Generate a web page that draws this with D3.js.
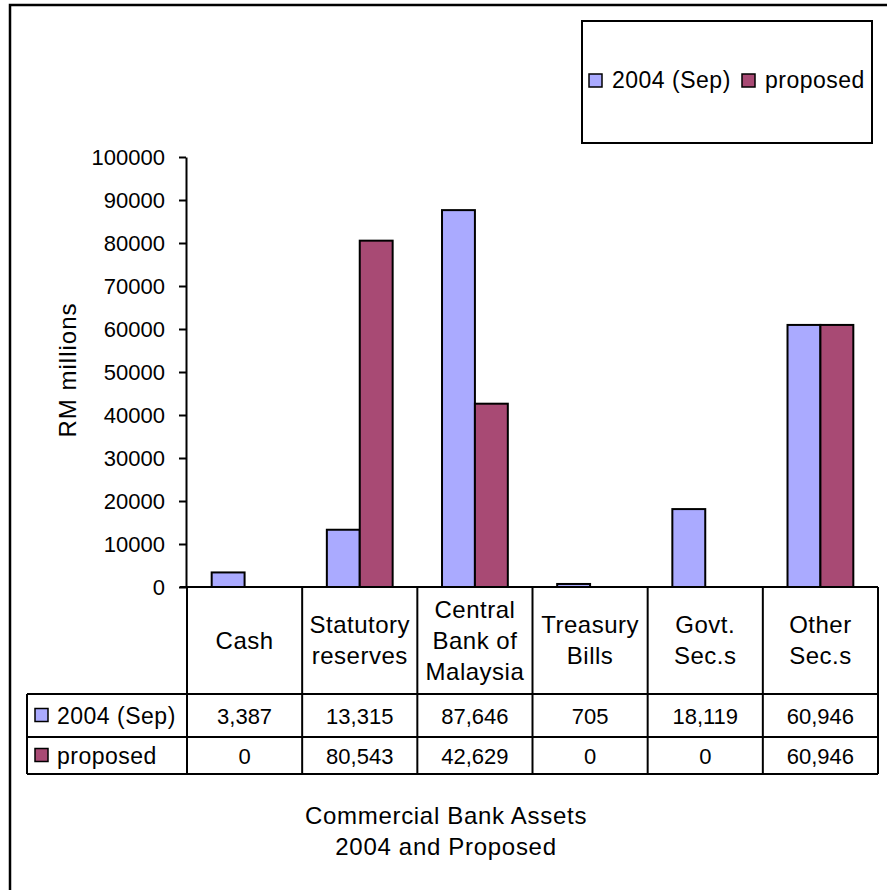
<!DOCTYPE html>
<html>
<head>
<meta charset="utf-8">
<script src="https://cdn.jsdelivr.net/npm/d3@7"></script>
<style>
  body { margin: 0; background: #fff; }
  svg text { font-family: "Liberation Sans", Arial, sans-serif; fill: #000; }
</style>
</head>
<body>
<svg id="chart" width="887" height="890"></svg>
<script>
// Commercial bank assets, 2004 vs proposed (RM millions)
const categories = ["Cash", "Statutory reserves", "Central Bank of Malaysia", "Treasury Bills", "Govt. Sec.s", "Other Sec.s"];
const categoryLines = [["Cash"], ["Statutory", "reserves"], ["Central", "Bank of", "Malaysia"], ["Treasury", "Bills"], ["Govt.", "Sec.s"], ["Other", "Sec.s"]];
const seriesNames = ["2004 (Sep)", "proposed"];
const sep2004 = [3387, 13315, 87646, 705, 18119, 60946];
const proposed = [0, 80543, 42629, 0, 0, 60946];
const yTicks = [0, 10000, 20000, 30000, 40000, 50000, 60000, 70000, 80000, 90000, 100000];
const colors = ["#aaaaff", "#a84a74"];

const seriesValues = [sep2004, proposed];
const svg = d3.select("#chart");

const plotLeft = 187, plotRight = 878, plotTop = 157, plotBase = 587;
const rowLines = [694, 737, 774];

// frame (only top and left edges are visible in the original)
svg.append("path")
  .attr("d", "M10,890 L10,5 L887,5")
  .attr("fill", "none").attr("stroke", "#000").attr("stroke-width", 2.5);

const x = d3.scaleBand().domain(categories).range([plotLeft, plotRight]);
const x1 = d3.scaleBand().domain(seriesNames).range([0, x.bandwidth()]).paddingOuter(0.75);
const y = d3.scaleLinear().domain([0, 100000]).range([plotBase, plotTop]);

// bars
const groups = svg.selectAll("g.cat")
  .data(categories)
  .join("g")
  .attr("class", "cat")
  .attr("transform", d => `translate(${x(d)},0)`);

groups.selectAll("rect")
  .data((d, i) => seriesNames.map((s, j) => ({s, v: seriesValues[j][i], j})).filter(d => d.v > 0))
  .join("rect")
  .attr("x", d => x1(d.s))
  .attr("y", d => y(d.v))
  .attr("width", x1.bandwidth())
  .attr("height", d => y(0) - y(d.v))
  .attr("fill", d => colors[d.j])
  .attr("stroke", "#000")
  .attr("stroke-width", 2);

// y axis
const yAxis = svg.append("g")
  .attr("transform", `translate(${plotLeft - 1},0)`)
  .call(d3.axisLeft(y).tickValues(yTicks).tickFormat(d3.format("d")).tickSize(7).tickSizeOuter(0).tickPadding(14));
yAxis.selectAll("path, line").attr("stroke", "#000").attr("stroke-width", 2);
yAxis.selectAll("text").style("font-size", "22px").attr("font-family", null);

svg.append("text")
  .attr("transform", "translate(68,370) rotate(-90)")
  .attr("text-anchor", "middle")
  .attr("dy", "0.35em")
  .style("font-size", "24px")
  .style("letter-spacing", "1px")
  .text("RM millions");

// data table
const lines = svg.append("g").attr("stroke", "#000").attr("stroke-width", 2);
lines.append("line").attr("x1", plotLeft - 7).attr("x2", plotRight).attr("y1", plotBase).attr("y2", plotBase);
rowLines.forEach(ry => lines.append("line").attr("x1", 27).attr("x2", plotRight).attr("y1", ry).attr("y2", ry));
lines.append("line").attr("x1", 27).attr("x2", 27).attr("y1", rowLines[0]).attr("y2", rowLines[2]);
categories.forEach(c => lines.append("line").attr("x1", x(c)).attr("x2", x(c)).attr("y1", plotBase).attr("y2", rowLines[2]));
lines.append("line").attr("x1", plotRight).attr("x2", plotRight).attr("y1", plotBase).attr("y2", rowLines[2]);

// category labels
const headMid = (plotBase + rowLines[0]) / 2;
categories.forEach((c, i) => {
  const ls = categoryLines[i];
  const t = svg.append("text")
    .attr("text-anchor", "middle")
    .style("font-size", "24px")
    .style("letter-spacing", "0.5px");
  ls.forEach((l, k) => {
    t.append("tspan")
      .attr("x", x(c) + x.bandwidth() / 2)
      .attr("y", headMid + 8 - (ls.length - 1) * 31 / 2 + k * 31)
      .text(l);
  });
});

// value rows
const fmt = d3.format(",");
seriesNames.forEach((s, j) => {
  const y0 = rowLines[j], y1 = rowLines[j + 1];
  const mid = (y0 + y1) / 2;
  svg.append("rect")
    .attr("x", 35).attr("y", mid - 7).attr("width", 13).attr("height", 13)
    .attr("fill", colors[j]).attr("stroke", "#000").attr("stroke-width", 1.5);
  svg.append("text")
    .attr("x", 57).attr("y", mid + 8)
    .style("font-size", "23px")
    .style("letter-spacing", "0.5px")
    .text(s);
  categories.forEach((c, i) => {
    svg.append("text")
      .attr("x", x(c) + x.bandwidth() / 2)
      .attr("y", mid + 8)
      .attr("text-anchor", "middle")
      .style("font-size", "22px")
      .text(fmt(seriesValues[j][i]));
  });
});

// legend box
const legend = svg.append("g");
legend.append("rect")
  .attr("x", 582).attr("y", 21).attr("width", 290).attr("height", 122)
  .attr("fill", "none").attr("stroke", "#000").attr("stroke-width", 2);
const legendX = [589, 742];
seriesNames.forEach((s, j) => {
  legend.append("rect")
    .attr("x", legendX[j]).attr("y", 74).attr("width", 13).attr("height", 13)
    .attr("fill", colors[j]).attr("stroke", "#000").attr("stroke-width", 1.5);
  legend.append("text")
    .attr("x", legendX[j] + 23).attr("y", 88)
    .style("font-size", "23px")
    .style("letter-spacing", "0.5px")
    .text(s);
});

// title below
const title = svg.append("text")
  .attr("text-anchor", "middle")
  .style("font-size", "24px")
  .style("letter-spacing", "0.7px");
title.append("tspan").attr("x", 446).attr("y", 824).text("Commercial Bank Assets");
title.append("tspan").attr("x", 446).attr("y", 855).text("2004 and Proposed");
</script>
</body>
</html>
